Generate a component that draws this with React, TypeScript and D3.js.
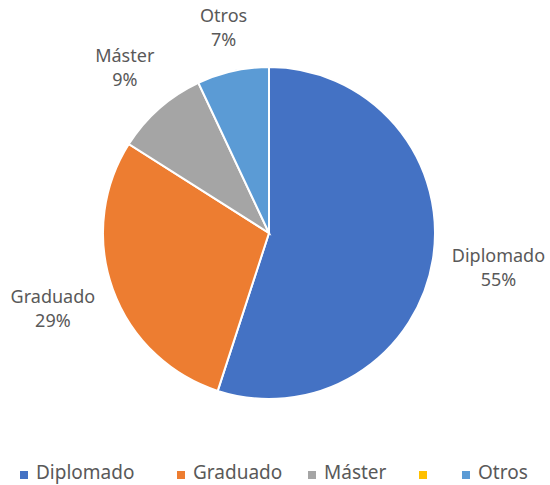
import React, { useEffect, useRef } from 'react'
import * as d3 from 'd3'

const categories = ['Diplomado', 'Graduado', 'Máster', '', 'Otros']
const values = [55, 29, 9, 0, 7]
const colors = ['#4472C4', '#ED7D31', '#A5A5A5', '#FFC000', '#5B9BD5']

export default function App() {
  const ref = useRef<SVGSVGElement>(null)

  useEffect(() => {
    const svg = d3.select(ref.current)
    svg.selectAll('*').remove()

    const width = 550
    const height = 485
    const cx = 269
    const cy = 233
    const radius = 166
    const labelGap = 17
    const font = 'Noto Sans, sans-serif'

    const data = categories.map((name, i) => ({ name, value: values[i], color: colors[i] }))
    const total = d3.sum(values)

    const pie = d3.pie<any>().value(d => d.value).sort(null)
    const arcs = pie(data)
    const arc = d3.arc<any>().innerRadius(0).outerRadius(radius)

    svg.attr('width', width).attr('height', height)
    svg.append('rect').attr('width', width).attr('height', height).attr('fill', '#fff')

    const g = svg.append('g').attr('transform', `translate(${cx},${cy})`)

    g.selectAll('path')
      .data(arcs.filter(a => a.data.value > 0))
      .join('path')
      .attr('d', arc)
      .attr('fill', d => d.data.color)
      .attr('stroke', '#fff')
      .attr('stroke-width', 2)

    // data labels, placed just outside the slice edge (like Excel "outside end")
    const lbl = g.selectAll('g.lbl')
      .data(arcs.filter(a => a.data.value > 0))
      .join('g')
      .attr('class', 'lbl')

    lbl.append('text')
      .attr('text-anchor', 'middle')
      .attr('y', 0)
      .attr('font-family', font)
      .attr('font-size', 18)
      .attr('fill', '#595959')
      .text(d => d.data.name)

    lbl.append('text')
      .attr('text-anchor', 'middle')
      .attr('y', 24)
      .attr('font-family', font)
      .attr('font-size', 18)
      .attr('fill', '#595959')
      .text(d => Math.round((d.data.value / total) * 100) + '%')

    lbl.attr('transform', function (d) {
      const a = (d.startAngle + d.endAngle) / 2
      const dx = Math.sin(a)
      const dy = -Math.cos(a)
      const b = (this as SVGGElement).getBBox()
      const hw = b.width / 2
      const top = -13
      const bottom = 24 + 4
      const hh = (bottom - top) / 2
      const support = hw * Math.abs(dx) + hh * Math.abs(dy)
      const r = radius + labelGap + support
      const px = dx * r
      const py = dy * r - (top + bottom) / 2
      return `translate(${px},${py})`
    })

    // legend
    const legendX = [20, 177, 308, 419, 462]
    const legendY = 479
    const leg = svg.selectAll('g.leg')
      .data(data)
      .join('g')
      .attr('class', 'leg')
      .attr('transform', (d, i) => `translate(${legendX[i]},${legendY})`)

    leg.append('rect')
      .attr('x', 0)
      .attr('y', -8)
      .attr('width', 8)
      .attr('height', 8)
      .attr('fill', d => d.color)

    leg.append('text')
      .attr('x', 16)
      .attr('y', 0)
      .attr('font-family', font)
      .attr('font-size', 19)
      .attr('fill', '#595959')
      .text(d => d.name)
  }, [])

  return (
    <div style={{ position: 'absolute', left: 0, top: 0 }}>
      <svg ref={ref}></svg>
    </div>
  )
}
